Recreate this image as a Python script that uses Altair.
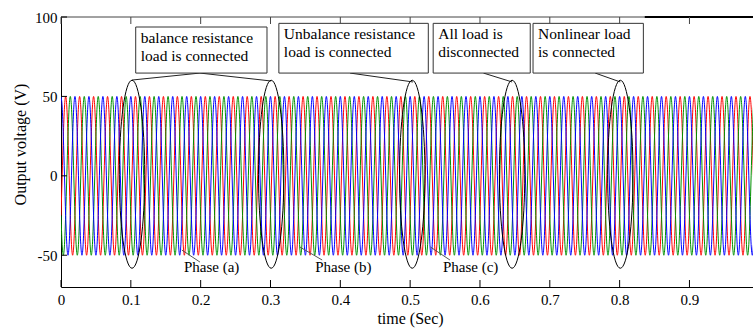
import altair as alt
import pandas as pd

# ---- data ----
# one 50 Hz cycle (20 ms), 12 samples, per phase (V)
cycle_blue  = [50, 43.3, 25, 0, -25, -43.3, -50, -43.3, -25, 0, 25, 43.3]
cycle_red   = [-25, 0, 25, 43.3, 50, 43.3, 25, 0, -25, -43.3, -50, -43.3]
cycle_green = [-25, -43.3, -50, -43.3, -25, 0, 25, 43.3, 50, 43.3, 25, 0]
n_cycles = 50
cycle_len = 0.02

x_ticks = [0, 0.1, 0.2, 0.3, 0.4, 0.5, 0.6, 0.7, 0.8, 0.9]
y_ticks = [-50, 0, 50, 100]

box_x1 = [0.107, 0.312, 0.533, 0.676]
box_x2 = [0.295, 0.526, 0.672, 0.834]
box_y1 = [93.7, 96.0, 96.0, 96.0]
box_line1 = ["balance resistance", "Unbalance resistance", "All load is", "Nonlinear load"]
box_line2 = ["load is connected", "load is connected", "disconnected", "is connected"]

ellipse_x = [0.1017, 0.301, 0.503, 0.646, 0.801]
ellipse_y = [1.0, 1.0, 1.0, 1.0, 1.0]

conn_x1 = [0.1017, 0.199, 0.414, 0.605, 0.765]
conn_y1 = [60.3, 64.7, 64.7, 64.7, 64.7]
conn_x2 = [0.199, 0.301, 0.504, 0.646, 0.801]
conn_y2 = [64.7, 59.7, 59.1, 59.1, 59.1]

phase_text = ["Phase (a)", "Phase (b)", "Phase (c)"]
phase_tx = [0.176, 0.364, 0.547]
phase_ty = [-57.4, -57.4, -57.4]
ptr_x1 = [0.173, 0.342, 0.529]
ptr_y1 = [-46.7, -44.8, -44.8]
ptr_x2 = [0.199, 0.374, 0.557]
ptr_y2 = [-54.3, -53.0, -53.0]

XMAX = 0.991
FONT = "Liberation Serif"

rows = []
for name, cyc, order in [("red", cycle_red, 0), ("green", cycle_green, 1), ("blue", cycle_blue, 2)]:
    n = len(cyc)
    for k in range(n_cycles):
        for i, v in enumerate(cyc):
            rows.append({"t": k * cycle_len + i * cycle_len / n, "v": v, "phase": name, "o": order})
    rows.append({"t": n_cycles * cycle_len, "v": cyc[0], "phase": name, "o": order})
wave = pd.DataFrame(rows)

xs = alt.Scale(domain=[0, XMAX], nice=False, zero=False)
ys = alt.Scale(domain=[-70, 100], nice=False, zero=False)

waves = alt.Chart(wave).mark_line(strokeWidth=1, interpolate="monotone", clip=True).encode(
    x=alt.X("t:Q", scale=xs, axis=alt.Axis(values=x_ticks, title="time (Sec)", grid=False,
            domainColor="#000", domainWidth=1, ticks=False, labelPadding=5,
            labelExpr="'' + datum.value",
            labelFont=FONT, labelFontSize=15, labelColor="#000", labelFlush=False,
            titleFont=FONT, titleFontSize=16, titleFontWeight="normal", titleColor="#000",
            titleX=349, titleY=31, titleBaseline="middle")),
    y=alt.Y("v:Q", scale=ys, axis=alt.Axis(values=y_ticks, title="Output voltage (V)", grid=False,
            domainColor="#000", domainWidth=1, ticks=False, labelPadding=4,
            labelExpr="'' + datum.value",
            labelFont=FONT, labelFontSize=15, labelColor="#000",
            titleFont=FONT, titleFontSize=16, titleFontWeight="normal", titleColor="#000",
            titleX=-41, titleY=127, titleAngle=-90, titleAlign="center", titleBaseline="middle")),
    color=alt.Color("phase:N", scale=alt.Scale(domain=["red", "green", "blue"],
                    range=["#ff0000", "#009000", "#0000ff"]), legend=None),
    detail="phase:N",
    order="o:Q",
)

tick_df = pd.DataFrame({"x": x_ticks})
bottom_ticks = alt.Chart(tick_df).mark_rule(color="#000", strokeWidth=1).encode(
    x=alt.X("x:Q", scale=xs), y=alt.value(270), y2=alt.value(263))
top_ticks = alt.Chart(tick_df).mark_rule(color="#444", strokeWidth=1).encode(
    x=alt.X("x:Q", scale=xs), y=alt.value(0), y2=alt.value(7))
ytick_df = pd.DataFrame({"y": y_ticks})
left_ticks = alt.Chart(ytick_df).mark_rule(color="#000", strokeWidth=1).encode(
    y=alt.Y("y:Q", scale=ys), x=alt.value(0), x2=alt.value(6))

top_border = alt.Chart(pd.DataFrame({"a": [0], "b": [XMAX], "y": [100]})).mark_rule(
    color="#444", strokeWidth=1).encode(x=alt.X("a:Q", scale=xs), x2="b:Q", y=alt.Y("y:Q", scale=ys))
top_black = alt.Chart(pd.DataFrame({"a": [0.836], "b": [XMAX], "y": [100]})).mark_rule(
    color="#000", strokeWidth=2).encode(x=alt.X("a:Q", scale=xs), x2="b:Q", y=alt.Y("y:Q", scale=ys))

box_df = pd.DataFrame({"x1": box_x1, "x2": box_x2, "y1": box_y1, "y2": [64.7] * 4,
                       "l1": box_line1, "l2": box_line2})
boxes = alt.Chart(box_df).mark_rect(fill="white", stroke="#333", strokeWidth=1).encode(
    x=alt.X("x1:Q", scale=xs), x2="x2:Q", y=alt.Y("y1:Q", scale=ys), y2="y2:Q")
txt1 = alt.Chart(box_df).mark_text(font=FONT, fontSize=15.5, align="left", baseline="middle",
                                   dx=5, dy=11, color="#000").encode(
    x=alt.X("x1:Q", scale=xs), y=alt.Y("y1:Q", scale=ys), text="l1:N")
txt2 = alt.Chart(box_df).mark_text(font=FONT, fontSize=15.5, align="left", baseline="middle",
                                   dx=5, dy=29, color="#000").encode(
    x=alt.X("x1:Q", scale=xs), y=alt.Y("y1:Q", scale=ys), text="l2:N")

ell_df = pd.DataFrame({"x": ellipse_x, "y": ellipse_y})
ellipse_path = "M0,-1 A0.135,1 0 1,1 0,1 A0.135,1 0 1,1 0,-1 Z"
ellipses = alt.Chart(ell_df).mark_point(shape=ellipse_path, size=188 * 188, filled=False,
                                        stroke="#000", strokeWidth=1, opacity=1).encode(
    x=alt.X("x:Q", scale=xs), y=alt.Y("y:Q", scale=ys))

conn_df = pd.DataFrame({"x1": conn_x1, "y1": conn_y1, "x2": conn_x2, "y2": conn_y2})
conns = alt.Chart(conn_df).mark_rule(color="#222", strokeWidth=1).encode(
    x=alt.X("x1:Q", scale=xs), y=alt.Y("y1:Q", scale=ys), x2="x2:Q", y2="y2:Q")

ptr_df = pd.DataFrame({"x1": ptr_x1, "y1": ptr_y1, "x2": ptr_x2, "y2": ptr_y2})
ptrs = alt.Chart(ptr_df).mark_rule(color="#555", strokeWidth=1).encode(
    x=alt.X("x1:Q", scale=xs), y=alt.Y("y1:Q", scale=ys), x2="x2:Q", y2="y2:Q")
ph_df = pd.DataFrame({"x": phase_tx, "y": phase_ty, "t": phase_text})
ph_txt = alt.Chart(ph_df).mark_text(font=FONT, fontSize=15, align="left", baseline="middle",
                                    color="#000").encode(
    x=alt.X("x:Q", scale=xs), y=alt.Y("y:Q", scale=ys), text="t:N")

chart = alt.layer(
    waves, top_border, top_black, top_ticks, bottom_ticks, left_ticks,
    conns, boxes, txt1, txt2, ellipses, ptrs, ph_txt
).properties(
    width=692, height=270,
    autosize=alt.AutoSizeParams(type="none"),
    padding={"left": 61, "top": 17, "right": 0, "bottom": 42},
    background="white",
).configure_view(stroke=None)

chart.save("out.html", embed_options={"renderer": "svg", "actions": False})
